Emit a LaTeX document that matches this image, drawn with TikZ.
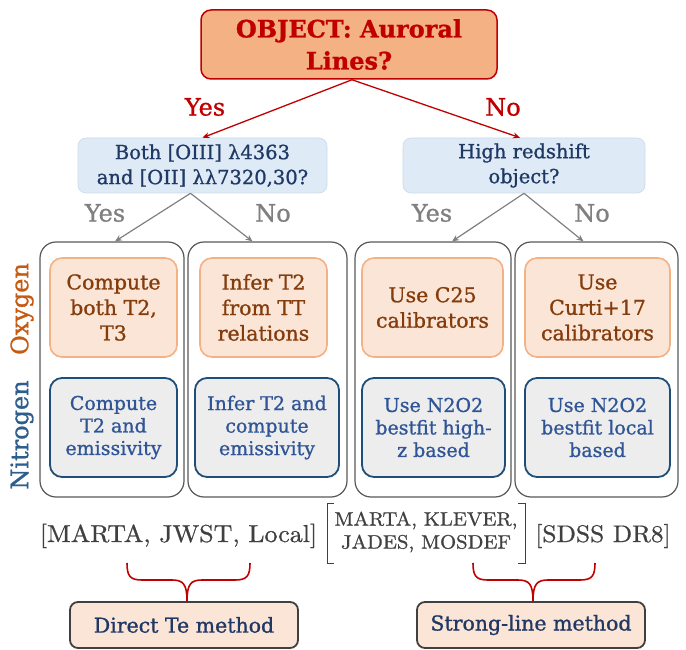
\documentclass[tikz,border=0pt]{standalone}
\usepackage{fontspec}
\newfontfamily\dv{DejaVu Serif}[FakeBold=1]
\newfontfamily\lm{lmroman10-regular.otf}[FakeStretch=1.06,FakeBold=0.8]
\usetikzlibrary{arrows.meta}
\definecolor{titlefill}{HTML}{F4B183}
\definecolor{darkred}{HTML}{C00000}
\definecolor{qfill}{HTML}{DEEBF7}
\definecolor{qtext}{HTML}{203864}
\definecolor{arrgray}{HTML}{808080}
\definecolor{colgray}{HTML}{595959}
\definecolor{ofill}{HTML}{FBE5D6}
\definecolor{odraw}{HTML}{F4B183}
\definecolor{otext}{HTML}{843C0C}
\definecolor{bfill}{HTML}{EDEDED}
\definecolor{bdraw}{HTML}{1F4E79}
\definecolor{btext}{HTML}{2F5597}
\definecolor{oxy}{HTML}{C55A11}
\definecolor{nitro}{HTML}{2E5E8E}
\definecolor{dtext}{HTML}{404040}
\tikzset{
  titlebox/.style={rectangle, rounded corners=10pt, fill=titlefill, draw=darkred, line width=1.5pt,
    text=darkred, font=\dv\bfseries\fontsize{24}{32}\selectfont, align=center,
    minimum width=296pt, minimum height=69pt, inner sep=2pt},
  qbox/.style={rectangle, rounded corners=8pt, fill=qfill, draw=qfill!90!qtext, line width=0.6pt,
    text=qtext, font=\dv\fontsize{19.5}{25}\selectfont, align=center, inner sep=2pt},
  colbox/.style={rectangle, rounded corners=16pt, draw=colgray, line width=1.2pt, fill=white,
    minimum height=255pt, inner sep=0pt},
  obox/.style={rectangle, rounded corners=12pt, fill=ofill, draw=odraw, line width=1.6pt,
    text=otext, font=\dv\fontsize{20.5}{25.5}\selectfont, align=center,
    minimum height=99pt, inner sep=2pt},
  nbox/.style={rectangle, rounded corners=12pt, fill=bfill, draw=bdraw, line width=1.8pt,
    text=btext, font=\dv\fontsize{19}{22.5}\selectfont, align=center,
    minimum height=99pt, inner sep=2pt},
  mbox/.style={rectangle, rounded corners=8pt, fill=ofill, draw=dtext, line width=1.8pt,
    text=qtext, font=\dv\fontsize{20.5}{24}\selectfont, minimum width=228pt, minimum height=46pt},
  redlab/.style={text=darkred, font=\dv\fontsize{24}{28}\selectfont, inner sep=0pt},
  graylab/.style={text=arrgray, font=\dv\fontsize{24}{28}\selectfont, inner sep=0pt},
  sidelab/.style={rotate=90, font=\dv\fontsize{24}{28}\selectfont, inner sep=0pt},
  reflab/.style={text=dtext, font=\lm\fontsize{24.5}{30}\selectfont, inner sep=0pt},
  redarr/.style={draw=darkred, line width=1.3pt, -{Stealth[length=7pt,width=6pt]}},
  grayarr/.style={draw=arrgray, line width=1.2pt, -{Stealth[length=7pt,width=6pt]}},
  bracestyle/.style={draw=darkred, line width=1.6pt},
  brackstyle/.style={draw=dtext, line width=0.9pt},
}
\begin{document}
\begin{tikzpicture}[x=1pt,y=-1pt]
\useasboundingbox (0,0) rectangle (686,650);
% top
\node[titlebox] (top) at (349,44.5) {OBJECT: Auroral\\Lines?};
\node[qbox, minimum width=249pt, minimum height=55pt] (q1) at (202.5,165.5) {Both [OIII] λ4363\\and [OII] λλ7320,30?};
\node[qbox, minimum width=242pt, minimum height=55pt] (q2) at (524,165.5) {High redshift\\object?};
\draw[redarr] ([xshift=3pt]top.south) -- (q1.north);
\draw[redarr] ([xshift=3pt]top.south) -- ([xshift=-4pt]q2.north);
\node[redlab] (yes0) at (205,107) {Yes};
\node[redlab] (no0) at (503,107) {No};
% columns
\node[colbox, minimum width=144pt] (c1) at (112,369.5) {};
\node[colbox, minimum width=159pt] (c2) at (267.5,369.5) {};
\node[colbox, minimum width=156pt] (c3) at (433,369.5) {};
\node[colbox, minimum width=163pt] (c4) at (596.5,369.5) {};
\draw[grayarr] ([xshift=-12pt]q1.south) -- ([xshift=3pt]c1.north);
\draw[grayarr] ([xshift=-12pt]q1.south) -- ([xshift=-15pt]c2.north);
\draw[grayarr] (q2.south) -- ([xshift=19pt]c3.north);
\draw[grayarr] (q2.south) -- ([xshift=-13pt]c4.north);
\node[graylab] (yes1) at (105,213) {Yes};
\node[graylab] (no1) at (273,213) {No};
\node[graylab] (yes2) at (432,213) {Yes};
\node[graylab] (no2) at (592,213) {No};
% oxygen boxes
\node[obox, minimum width=127pt] (o1) at (113.5,307.5) {Compute\\both T2,\\T3};
\node[obox, minimum width=127pt] (o2) at (263.5,307.5) {Infer T2\\from TT\\relations};
\node[obox, minimum width=141pt] (o3) at (432.5,307.5) {Use C25\\calibrators};
\node[obox, minimum width=145pt] (o4) at (597.5,307.5) {Use\\Curti+17\\calibrators};
% nitrogen boxes
\node[nbox, minimum width=127pt] (n1) at (113.5,427.5) {Compute\\T2 and\\emissivity};
\node[nbox, minimum width=144pt] (n2) at (267,427.5) {Infer T2 and\\compute\\emissivity};
\node[nbox, minimum width=143pt] (n3) at (433.5,427.5) {Use N2O2\\bestfit high-\\z based};
\node[nbox, minimum width=145pt] (n4) at (597.5,427.5) {Use N2O2\\bestfit local\\based};
% side labels
\node[sidelab, text=oxy] (oxl) at (22,309) {Oxygen};
\node[sidelab, text=nitro] (nil) at (22,435) {Nitrogen};
% references
\node[reflab, anchor=base] (r1) at (178.5,542) {[MARTA, JWST, Local]};
\node[reflab, align=center, font=\lm\fontsize{19.5}{23}\selectfont] (r2) at (426,532) {MARTA, KLEVER,\\JADES, MOSDEF};
\node[reflab, anchor=base, font=\lm\fontsize{24}{30}\selectfont] (r3) at (603,542) {[SDSS DR8]};
\draw[brackstyle] (334,503) -- (327,503) -- (327,563) -- (334,563);
\draw[brackstyle] (518,503) -- (525,503) -- (525,563) -- (518,563);
% method boxes
\node[mbox] (m1) at (184,625) {Direct Te method};
\node[mbox] (m2) at (531,625) {Strong-line method};
% braces
\draw[bracestyle] (127,563) .. controls (127,576) and (130,580) .. (142,580) -- (172,580)
   .. controls (183,580) and (187,584) .. (187,601);
\draw[bracestyle] (250,563) .. controls (250,576) and (247,580) .. (235,580) -- (202,580)
   .. controls (191,580) and (187,584) .. (187,601);
\draw[bracestyle] (473,563) .. controls (473,576) and (476,580) .. (488,580) -- (518,580)
   .. controls (529,580) and (533,584) .. (533,601);
\draw[bracestyle] (595,563) .. controls (595,576) and (592,580) .. (580,580) -- (548,580)
   .. controls (537,580) and (533,584) .. (533,601);
\end{tikzpicture}
\end{document}
